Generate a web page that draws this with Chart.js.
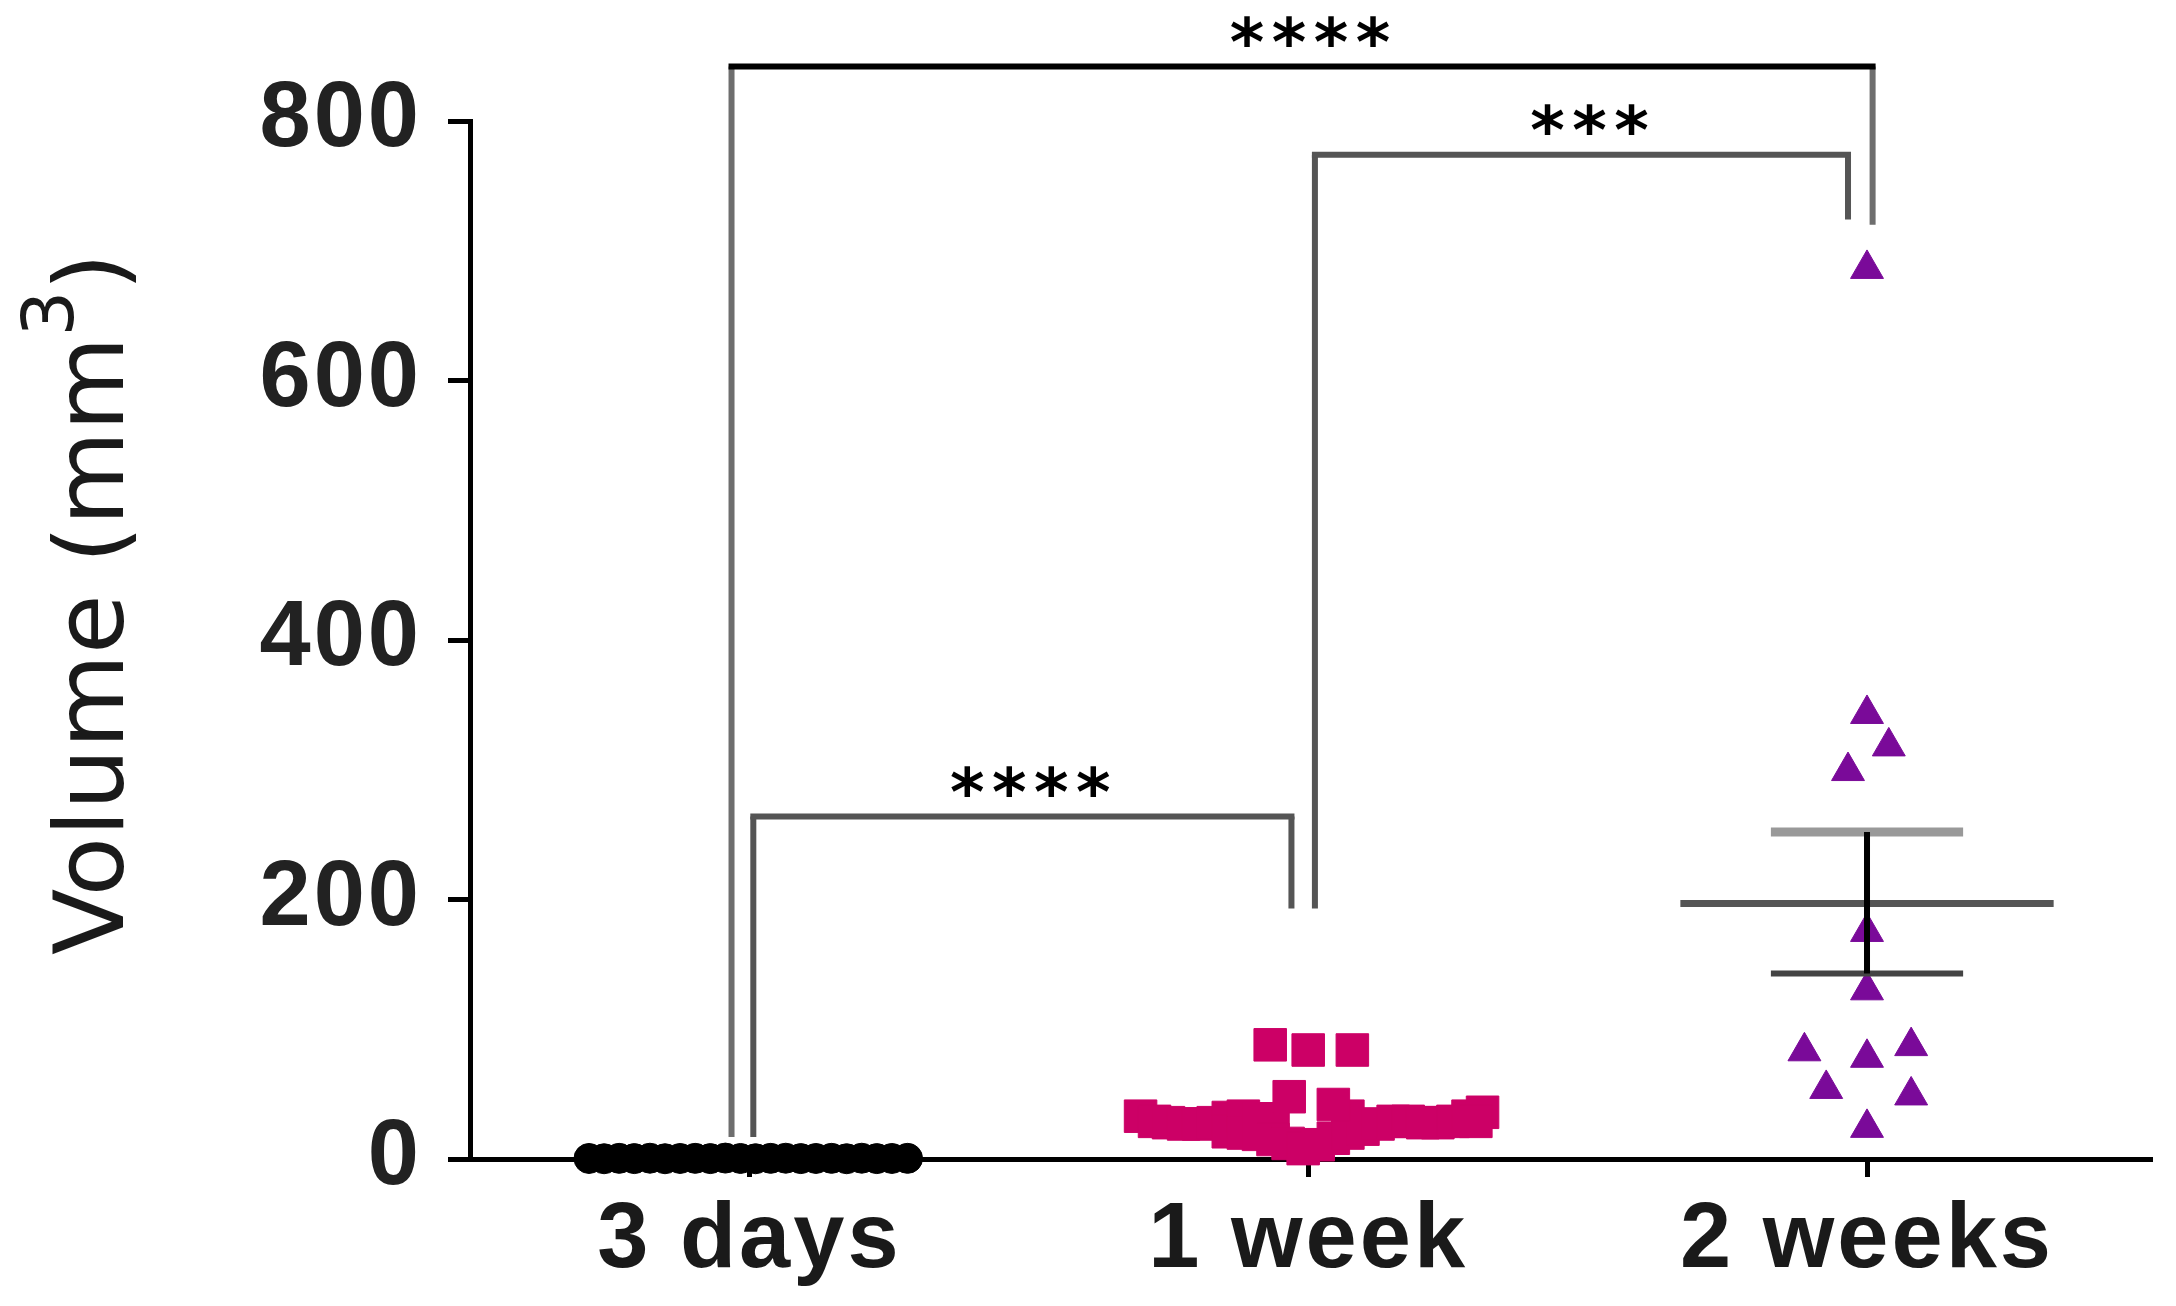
<!DOCTYPE html>
<html>
<head>
<meta charset="utf-8">
<script src="https://cdn.jsdelivr.net/npm/chart.js@4.4.1/dist/chart.umd.min.js"></script>
<style>
  html, body { margin: 0; padding: 0; background: #fff; }
</style>
</head>
<body>
<canvas id="myChart" width="2176" height="1306"></canvas>
<script>
'use strict';

// categories and axis
let groupLabels = ['3 days', '1 week', '2 weeks'];
let yTicks = [0, 200, 400, 600, 800];
let titleMain = 'Volume (mm';
let titleSup = '3';
let titleClose = ')';

// 3 days: all close to zero
let daysSpread = [-0.287, -0.260, -0.233, -0.206, -0.178, -0.151, -0.124, -0.097, -0.070, -0.043, -0.016,
  0.011, 0.038, 0.065, 0.092, 0.119, 0.147, 0.174, 0.201, 0.228, 0.255, 0.283];
let daysVolumes = [0.4, 0.2, 0.5, 0.3, 0.6, 0.2, 0.4, 0.5, 0.3, 0.7, 0.4,
  0.2, 0.5, 0.6, 0.3, 0.4, 0.5, 0.2, 0.6, 0.3, 0.4, 0.5];

// 1 week
let weekSpread = [-0.300, -0.275, -0.250, -0.223, -0.196, -0.170, -0.143, -0.143, -0.116, -0.116,
  -0.089, -0.089, -0.063, -0.063, -0.036, -0.009, 0.018, 0.045, 0.071, 0.071,
  0.098, 0.125, 0.152, 0.179, 0.205, 0.232, 0.259, 0.286, 0.312, 0.300,
  -0.068, 0.000, 0.079, -0.034, 0.045];
let weekVolumes = [33, 29, 28, 27, 27, 28, 32, 21, 33, 20,
  31, 19, 30, 15, 12, 8, 11, 16, 20, 33,
  23, 27, 29, 29, 28, 28, 29, 33, 36, 29,
  88, 84, 84, 48, 42];

// 2 weeks
let twoWeekSpread = [0.000, 0.000, 0.039, -0.034, 0.000, 0.000, -0.112, 0.000, 0.079, -0.073, 0.079, 0.000];
let twoWeekVolumes = [686, 343, 318, 299, 175, 130, 83, 78, 87, 54, 49, 24];
let twoWeekMean = 197;
let twoWeekSemHigh = 252;
let twoWeekSemLow = 143;

// significance brackets
let bracketFrom = [0, 1, 0];
let bracketTo = [2, 2, 1];
let bracketLevel = [842, 774, 264];
let bracketFromEnd = [17, 193, 17];
let bracketToEnd = [720, 724, 193];
let bracketText = ['****', '***', '****'];

// small sideways nudges so the bracket legs do not overlap
let bracketFromShift = [-0.032, 0.012, 0.007];
let bracketToShift = [0.010, -0.034, -0.030];
let bracketHorizColor = ['#000000', '#555555', '#555555'];
let bracketLegColor = ['#6e6e6e', '#555555', '#555555'];

let ctx = document.getElementById('myChart');

function toPoints(groupIndex, spread, values) {
  return values.map((v, i) => ({ x: groupIndex + spread[i], y: v }));
}

let meanHalf = 0.334;
let capHalf = 0.172;

let bracketPlugin = {
  id: 'brackets',
  afterDatasetsDraw(chart) {
    let c = chart.ctx;
    let xs = chart.scales.x;
    let ys = chart.scales.y;
    c.save();
    c.letterSpacing = '0px';
    c.lineCap = 'butt';
    c.lineWidth = 6;
    for (let i = 0; i < bracketFrom.length; i++) {
      let xl = xs.getPixelForValue(bracketFrom[i] + bracketFromShift[i]);
      let xr = xs.getPixelForValue(bracketTo[i] + bracketToShift[i]);
      let yt = ys.getPixelForValue(bracketLevel[i]);
      let yl = ys.getPixelForValue(bracketFromEnd[i]);
      let yr = ys.getPixelForValue(bracketToEnd[i]);

      c.strokeStyle = bracketLegColor[i];
      c.beginPath();
      c.moveTo(xl, yt);
      c.lineTo(xl, yl);
      c.moveTo(xr, yt);
      c.lineTo(xr, yr);
      c.stroke();

      c.strokeStyle = bracketHorizColor[i];
      c.beginPath();
      c.moveTo(xl - 3, yt);
      c.lineTo(xr + 3, yt);
      c.stroke();

      // stars, one glyph at a time
      c.fillStyle = '#000';
      c.font = 'bold 66px "DejaVu Sans"';
      c.textAlign = 'center';
      c.textBaseline = 'alphabetic';
      let m = c.measureText('*');
      let inkMid = (m.actualBoundingBoxAscent - m.actualBoundingBoxDescent) / 2;
      let stars = bracketText[i];
      let pitch = 42;
      let cx = (xl + xr) / 2 + 8;
      let cy = yt - 35;
      for (let k = 0; k < stars.length; k++) {
        let sx = cx + (k - (stars.length - 1) / 2) * pitch;
        c.fillText(stars[k], sx, cy + inkMid);
      }
    }
    c.restore();
  }
};

let yTitlePlugin = {
  id: 'yTitle',
  afterDraw(chart) {
    let c = chart.ctx;
    c.save();
    c.letterSpacing = '0px';
    c.translate(123, 604);
    c.rotate(-Math.PI / 2);
    c.fillStyle = '#1a1a1a';
    c.textAlign = 'left';
    c.textBaseline = 'alphabetic';
    let bigFont = '97px "DejaVu Sans"';
    let supFont = '72px "DejaVu Sans"';
    c.font = bigFont;
    let mainW = c.measureText(titleMain).width;
    let closeW = c.measureText(titleClose).width;
    c.font = supFont;
    let supW = c.measureText(titleSup).width;
    let start = -(mainW + supW + closeW) / 2;
    c.font = bigFont;
    c.fillText(titleMain, start, 0);
    c.font = supFont;
    c.fillText(titleSup, start + mainW, -50);
    c.font = bigFont;
    c.fillText(titleClose, start + mainW + supW, 0);
    c.restore();
  }
};

let spacingPlugin = {
  id: 'spacing',
  beforeDraw(chart) {
    chart.ctx.letterSpacing = '3px';
  }
};

new Chart(ctx, {
  type: 'scatter',
  data: {
    datasets: [
      {
        label: 'SEM bar',
        data: [{ x: 2, y: twoWeekSemLow }, { x: 2, y: twoWeekSemHigh }],
        showLine: true,
        borderColor: '#000',
        borderWidth: 6,
        pointRadius: 0,
        order: 0
      },
      {
        label: 'SEM upper',
        data: [{ x: 2 - capHalf, y: twoWeekSemHigh }, { x: 2 + capHalf, y: twoWeekSemHigh }],
        showLine: true,
        borderColor: '#999999',
        borderWidth: 9,
        pointRadius: 0,
        order: 0
      },
      {
        label: 'SEM lower',
        data: [{ x: 2 - capHalf, y: twoWeekSemLow }, { x: 2 + capHalf, y: twoWeekSemLow }],
        showLine: true,
        borderColor: '#444444',
        borderWidth: 6,
        pointRadius: 0,
        order: 0
      },
      {
        label: 'Mean',
        data: [{ x: 2 - meanHalf, y: twoWeekMean }, { x: 2 + meanHalf, y: twoWeekMean }],
        showLine: true,
        borderColor: '#555555',
        borderWidth: 7,
        pointRadius: 0,
        order: 0
      },
      {
        label: groupLabels[0],
        data: toPoints(0, daysSpread, daysVolumes),
        pointStyle: 'circle',
        pointRadius: 15,
        backgroundColor: '#000000',
        borderColor: '#000000',
        borderWidth: 1,
        order: 1
      },
      {
        label: groupLabels[1],
        data: toPoints(1, weekSpread, weekVolumes),
        pointStyle: 'rect',
        pointRadius: 23,
        backgroundColor: '#cc0066',
        borderColor: '#cc0066',
        borderWidth: 1,
        order: 1
      },
      {
        label: groupLabels[2],
        data: toPoints(2, twoWeekSpread, twoWeekVolumes),
        pointStyle: 'triangle',
        pointRadius: 19,
        backgroundColor: '#7a0a99',
        borderColor: '#7a0a99',
        borderWidth: 1,
        order: 1
      }
    ]
  },
  options: {
    responsive: false,
    devicePixelRatio: 1,
    animation: false,
    clip: false,
    layout: {
      padding: { top: 121, right: 18, bottom: 0, left: 0 }
    },
    plugins: {
      legend: { display: false },
      tooltip: { enabled: false }
    },
    scales: {
      x: {
        type: 'linear',
        min: -0.5,
        max: 2.51,
        afterBuildTicks: (scale) => {
          scale.ticks = groupLabels.map((l, i) => ({ value: i }));
        },
        afterFit: (scale) => {
          scale.height = 147;
        },
        grid: {
          display: true,
          drawOnChartArea: false,
          drawTicks: true,
          tickLength: 18,
          tickWidth: 5,
          tickColor: '#000'
        },
        border: { display: true, color: '#000', width: 5 },
        ticks: {
          autoSkip: false,
          maxRotation: 0,
          padding: 9,
          color: '#1a1a1a',
          font: { family: '"Liberation Sans"', size: 92, weight: 'bold' },
          callback: (value) => groupLabels[value]
        }
      },
      y: {
        min: 0,
        max: 800,
        afterBuildTicks: (scale) => {
          scale.ticks = yTicks.map(v => ({ value: v }));
        },
        afterFit: (scale) => {
          scale.width = 470;
        },
        grid: {
          display: true,
          drawOnChartArea: false,
          drawTicks: true,
          tickLength: 22,
          tickWidth: 5,
          tickColor: '#000'
        },
        border: { display: true, color: '#000', width: 5 },
        ticks: {
          padding: 26,
          color: '#222222',
          font: { family: '"Liberation Sans"', size: 92, weight: 'bold' }
        }
      }
    }
  },
  plugins: [spacingPlugin, bracketPlugin, yTitlePlugin]
});
</script>
</body>
</html>
